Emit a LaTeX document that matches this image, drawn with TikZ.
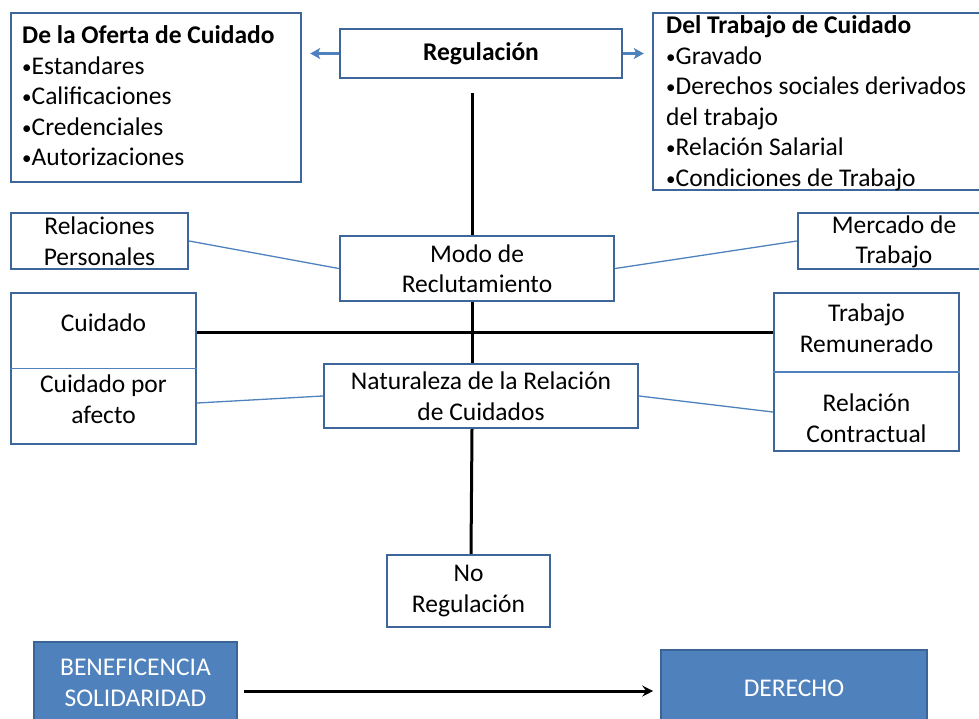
\documentclass[tikz,border=0pt]{standalone}
\usepackage{fontspec}
\setmainfont{Carlito}
\usetikzlibrary{arrows.meta,calc}
\definecolor{bord}{HTML}{3D679A}
\definecolor{thinc}{HTML}{4F81BD}
\definecolor{fillb}{HTML}{4F81BD}
\definecolor{bordf}{HTML}{3A6596}
\newcommand{\bul}{{\fontsize{19}{19}\selectfont\raisebox{1pt}{•}}}
\tikzset{
  box/.style={draw=bord, line width=2.4pt, fill=white, rectangle, inner sep=0pt,
    font=\fontsize{25.5}{30.5}\selectfont, align=center},
  fbox/.style={draw=bordf, line width=1.6pt, fill=fillb, rectangle, inner sep=0pt,
    font=\fontsize{25.5}{30.5}\selectfont, align=center, text=white},
  txt/.style={inner sep=0pt, font=\fontsize{25.5}{30.5}\selectfont, align=center},
  ltxt/.style={inner sep=0pt, font=\fontsize{25.5}{30.5}\selectfont, align=left, anchor=west},
  thinl/.style={draw=thinc, line width=1.3pt},
  blackl/.style={draw=black, line width=3pt},
  barrow/.style={draw=thinc, line width=2.2pt, -{Stealth[length=10pt,width=11pt,inset=2.5pt]}},
  karrow/.style={draw=black, line width=3pt, -{Stealth[length=11pt,width=11pt,inset=4pt]}}
}
\begin{document}
\begin{tikzpicture}[x=1pt,y=-1pt]
\path[use as bounding box, clip] (0,0) rectangle (979,718);
% boxes
\node[box, minimum width=290, minimum height=169] (ofer) at (156,97.5) {};
\node[ltxt] (ofertxt) at (22,96) {\textbf{De la Oferta de Cuidado}\\\bul Estandares\\\bul Calificaciones\\\bul Credenciales\\\bul Autorizaciones};
\node[box, minimum width=282, minimum height=49] (regul) at (481,53.5) {\textbf{Regulación}};
\node[box, minimum width=332, minimum height=177] (trabtop) at (819,101.5) {};
\node[ltxt] (trabtxt) at (666,103) {\textbf{Del Trabajo de Cuidado}\\\bul Gravado\\\bul Derechos sociales derivados\\del trabajo\\\bul Relación Salarial\\\bul Condiciones de Trabajo};
\node[box, minimum width=177, minimum height=56] (relac) at (99.5,241) {Relaciones\\Personales};
\node[box, minimum width=187, minimum height=56] (merc) at (891.5,241) {};
\node[txt] (merctxt) at (894,242) {Mercado de\\Trabajo};
\node[box, minimum width=274, minimum height=65] (modo) at (477,268.5) {Modo de\\Reclutamiento};
\node[box, minimum width=185, minimum height=151] (cuid) at (103.5,368.5) {};
\node[txt] (cuidtxt1) at (103.5,323) {Cuidado};
\node[txt] (cuidtxt2) at (103.5,399) {Cuidado por\\afecto};
\node[box, minimum width=185, minimum height=158] (trab) at (866.5,372) {};
\node[txt] (trabtxt1) at (866.5,328) {Trabajo\\Remunerado};
\node[txt] (trabtxt2) at (866.5,418) {Relación\\Contractual};
\node[box, minimum width=314, minimum height=64] (nat) at (481,396) {Naturaleza de la Relación\\de Cuidados};
\node[box, minimum width=163, minimum height=72] (noreg) at (468.5,591) {No\\Regulación};
\node[fbox, minimum width=203, minimum height=98] (benef) at (135.5,691) {};
\node[txt, text=white] (beneftxt) at (135.5,683) {BENEFICENCIA\\SOLIDARIDAD};
\node[fbox, minimum width=266, minimum height=90] (derecho) at (794,695) {};
\node[txt, text=white] (derechotxt) at (794,688) {DERECHO};
% dividers
\draw[thinl] (cuid.west) -- (cuid.east);
\draw[thinl] (trab.west) -- (trab.east);
% vertical spine
\coordinate (vtop) at (472,93);
\coordinate (vbot) at (471,0);
\draw[blackl] (vtop) -- (modo.north -| vtop);
\draw[blackl] (modo.south -| vtop) -- (nat.north -| vtop);
\draw[blackl] (nat.south -| vtop) -- (noreg.north -| vbot);
% horizontal line
\coordinate (hl) at (0,332);
\draw[blackl] (cuid.east |- hl) -- (trab.west |- hl);
% thin connectors
\draw[thinl] (relac.east) -- (modo.west);
\draw[thinl] (modo.east) -- (merc.west);
\draw[thinl] ($(cuid.east)+(0,34.5)$) -- (nat.west);
\draw[thinl] (nat.east) -- ($(trab.west)+(0,40)$);
% arrows
\draw[barrow] (regul.west) -- ($(ofer.east |- regul.west)+(8,0)$);
\draw[barrow] (regul.east) -- ($(trabtop.west |- regul.east)+(-8,0)$);
\draw[karrow] ($(benef.east)+(6,0)$) -- ($(derecho.west |- benef.east)+(-7,0)$);
\end{tikzpicture}
\end{document}
